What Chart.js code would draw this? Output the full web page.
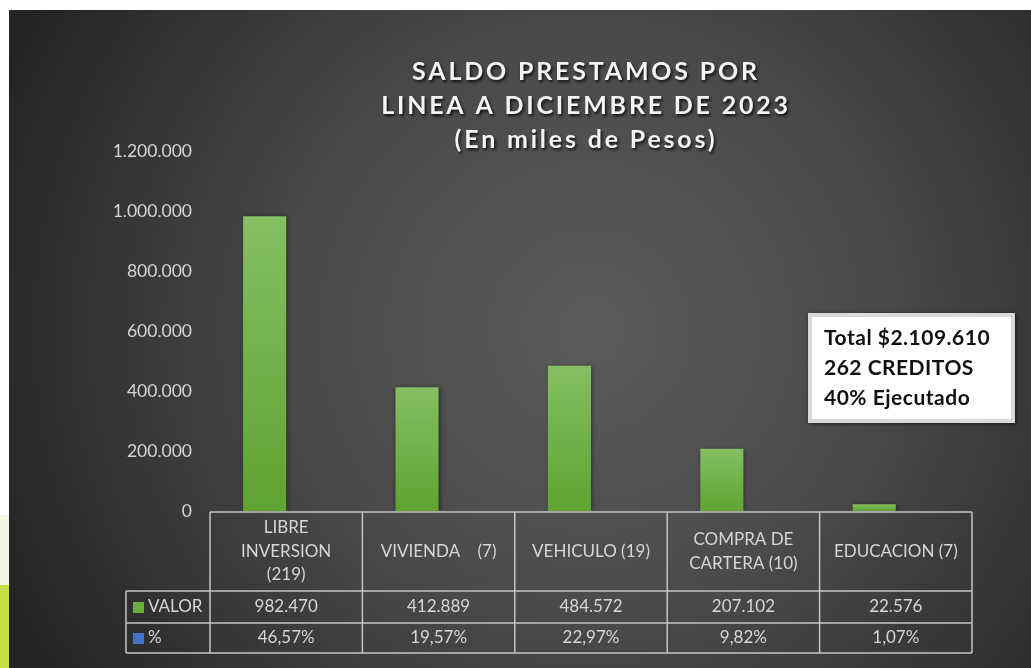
<!DOCTYPE html>
<html>
<head>
<meta charset="utf-8">
<script src="https://cdn.jsdelivr.net/npm/chart.js@4/dist/chart.umd.min.js"></script>
<style>
  html, body { margin: 0; padding: 0; background: #fff; }
  #wrap { width: 1031px; height: 668px; position: relative; }
</style>
</head>
<body>
<div id="wrap"><canvas id="grafico"></canvas></div>
<script>
// datos
const categorias = [["LIBRE", "INVERSION", "(219)"], ["VIVIENDA    (7)"], ["VEHICULO (19)"], ["COMPRA DE", "CARTERA (10)"], ["EDUCACION (7)"]];
const valores = [982470, 412889, 484572, 207102, 22576];
const porcentajes = [46.57, 19.57, 22.97, 9.82, 1.07];
const ticksY = [0, 200000, 400000, 600000, 800000, 1000000, 1200000];
const tituloLineas = ["SALDO PRESTAMOS POR", "LINEA A DICIEMBRE DE 2023", "(En miles de Pesos)"];
const notaLineas = ["Total $2.109.610", "262 CREDITOS", "40% Ejecutado"];

const miles = v => String(v).replace(/\B(?=(\d{3})+(?!\d))/g, ".");
const pct = v => v.toFixed(2).replace(".", ",") + "%";

const FUENTE = "Lato, 'Open Sans', sans-serif";

// fondo gris oscuro con degradado
const fondo = {
  id: "fondo",
  beforeDraw(chart) {
    const c = chart.ctx;
    c.save();
    c.fillStyle = "#ffffff";
    c.fillRect(0, 0, chart.width, chart.height);
    // franja decorativa a la izquierda
    c.fillStyle = "#f4f6e4";
    c.fillRect(0, 515, 9, 70);
    c.fillStyle = "#c6de45";
    c.fillRect(0, 585, 9, 83);
    const g = c.createRadialGradient(590, 330, 0, 590, 330, 640);
    g.addColorStop(0, "#5b5b5b");
    g.addColorStop(0.45, "#4a4a4a");
    g.addColorStop(1, "#242424");
    c.fillStyle = g;
    c.fillRect(9, 10, chart.width - 9, chart.height - 10);
    c.restore();
  }
};

// sombra suave de las barras
const sombra = {
  id: "sombra",
  beforeDatasetsDraw(chart) {
    const c = chart.ctx;
    c.save();
    c.shadowColor = "rgba(0,0,0,0.55)";
    c.shadowBlur = 5;
    c.shadowOffsetX = 1;
    c.shadowOffsetY = 1;
  },
  afterDatasetsDraw(chart) {
    chart.ctx.restore();
  }
};

// titulo, tabla de datos y cuadro de texto
const extras = {
  id: "extras",
  afterDraw(chart) {
    const c = chart.ctx;
    const a = chart.chartArea;
    const x = chart.scales.x;
    const ancho = (a.right - a.left) / categorias.length;
    c.save();

    // titulo
    c.font = "bold 25px " + FUENTE;
    c.letterSpacing = "2.8px";
    c.textAlign = "center";
    c.textBaseline = "middle";
    c.fillStyle = "#f4f4f4";
    c.shadowColor = "rgba(0,0,0,0.8)";
    c.shadowBlur = 3;
    c.shadowOffsetX = 1.5;
    c.shadowOffsetY = 1.5;
    tituloLineas.forEach((t, i) => c.fillText(t, 586, 72 + i * 34));
    c.shadowColor = "transparent";
    c.letterSpacing = "0px";

    // tabla
    const top = a.bottom + 1;
    const fila1 = top + 79, fila2 = fila1 + 32, fondoTabla = fila2 + 30;
    const izqLeyenda = 126;
    c.strokeStyle = "#c4c4c4";
    c.lineWidth = 1.5;
    c.beginPath();
    c.moveTo(a.left, top); c.lineTo(a.right, top);
    c.moveTo(izqLeyenda, fila1); c.lineTo(a.right, fila1);
    c.moveTo(izqLeyenda, fila2); c.lineTo(a.right, fila2);
    c.moveTo(izqLeyenda, fondoTabla); c.lineTo(a.right, fondoTabla);
    c.moveTo(izqLeyenda, fila1); c.lineTo(izqLeyenda, fondoTabla);
    for (let i = 0; i <= categorias.length; i++) {
      const px = a.left + i * ancho;
      c.moveTo(px, top); c.lineTo(px, fondoTabla);
    }
    c.stroke();

    c.fillStyle = "#d6d6d6";
    c.font = "17px " + FUENTE;
    categorias.forEach((lineas, i) => {
      const cx = x.getPixelForValue(i);
      const cy = (top + fila1) / 2;
      lineas.forEach((l, j) => {
        c.fillText(l, cx, cy + (j - (lineas.length - 1) / 2) * 23.5);
      });
      c.fillText(miles(valores[i]), cx, (fila1 + fila2) / 2);
      c.fillText(pct(porcentajes[i]), cx, (fila2 + fondoTabla) / 2);
    });

    // leyenda de la tabla
    c.textAlign = "left";
    c.fillStyle = "#6ab03d";
    c.fillRect(133, (fila1 + fila2) / 2 - 5, 11, 11);
    c.fillStyle = "#4472c4";
    c.fillRect(133, (fila2 + fondoTabla) / 2 - 5, 11, 11);
    c.fillStyle = "#d6d6d6";
    c.fillText("VALOR", 148, (fila1 + fila2) / 2);
    c.fillText("%", 148, (fila2 + fondoTabla) / 2);

    // cuadro de texto
    const bx = 808, by = 313, bw = 207, bh = 110;
    c.shadowColor = "rgba(0,0,0,0.6)";
    c.shadowBlur = 4;
    c.shadowOffsetX = 1;
    c.shadowOffsetY = 1;
    c.fillStyle = "#d9d9d9";
    c.fillRect(bx, by, bw, bh);
    c.shadowColor = "transparent";
    c.fillStyle = "#ffffff";
    c.fillRect(bx + 4, by + 4, bw - 8, bh - 8);
    c.fillStyle = "#111111";
    c.font = "bold 21px " + FUENTE;
    c.letterSpacing = "0.5px";
    notaLineas.forEach((t, i) => c.fillText(t, 824, 338 + i * 30));

    c.restore();
  }
};

function degradadoBarra(ctx) {
  const chart = ctx.chart;
  if (!chart.chartArea || ctx.type !== "data") return "#6ab03d";
  const y = chart.scales.y;
  const arriba = y.getPixelForValue(ctx.raw);
  const abajo = y.getPixelForValue(0);
  if (abajo - arriba < 1) return "#6ab03d";
  const g = chart.ctx.createLinearGradient(0, arriba, 0, abajo);
  g.addColorStop(0, "#84bf62");
  g.addColorStop(1, "#5fa331");
  return g;
}

new Chart(document.getElementById("grafico"), {
  type: "bar",
  data: {
    labels: categorias,
    datasets: [
      {
        label: "VALOR",
        data: valores,
        backgroundColor: degradadoBarra,
        borderWidth: 0
      },
      {
        label: "%",
        data: porcentajes,
        backgroundColor: "#4472c4",
        borderWidth: 0
      }
    ]
  },
  options: {
    responsive: true,
    maintainAspectRatio: false,
    animation: false,
    datasets: {
      bar: { categoryPercentage: 0.566, barPercentage: 1 }
    },
    layout: {
      padding: { top: 151, right: 59, bottom: 157, left: 0 }
    },
    scales: {
      x: {
        display: false
      },
      y: {
        min: 0,
        max: 1200000,
        afterFit(scale) { scale.width = 210; },
        afterBuildTicks(scale) { scale.ticks = ticksY.map(v => ({ value: v })); },
        grid: { display: false, drawTicks: false },
        border: { display: false },
        ticks: {
          padding: 18,
          color: "#d4d4d4",
          font: { family: FUENTE, size: 17.5 },
          callback: v => miles(v)
        }
      }
    },
    plugins: {
      legend: { display: false },
      tooltip: { enabled: false }
    }
  },
  plugins: [fondo, sombra, extras]
});
</script>
</body>
</html>
